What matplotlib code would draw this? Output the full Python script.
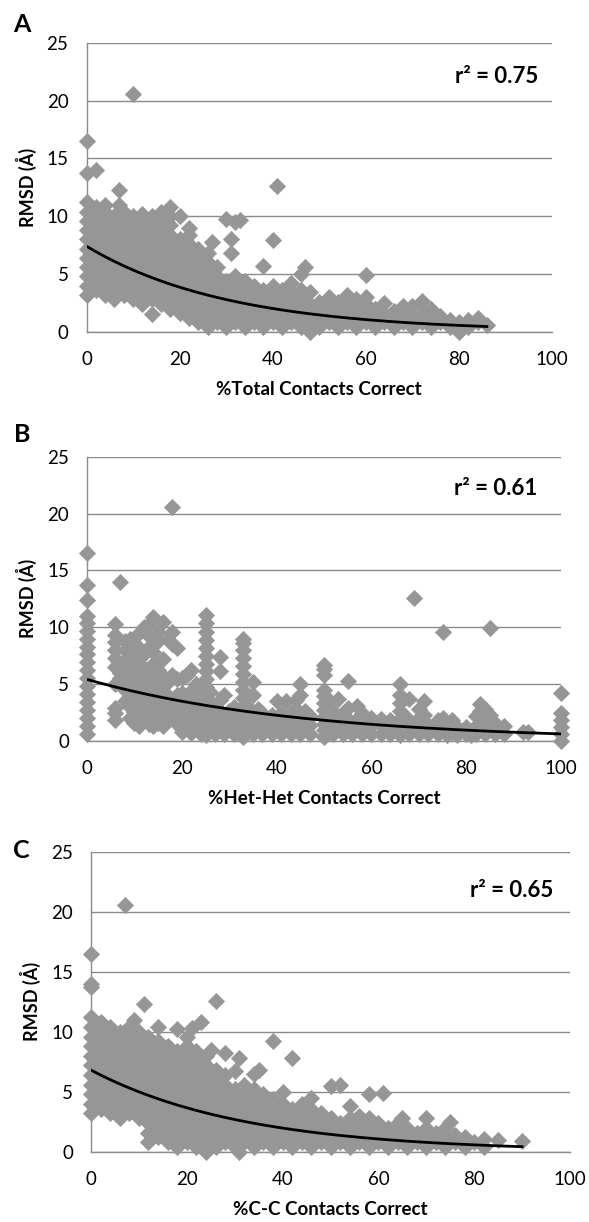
import matplotlib
matplotlib.use('Agg')
import matplotlib.pyplot as plt
import numpy as np

plt.rcParams['font.family'] = ['Lato', 'DejaVu Sans']

# Panel A: % total contacts correct vs RMSD, points grouped by x column
a_cols = [0, 2, 4, 6, 7, 8, 10, 12, 14, 16, 18, 20, 22, 24, 26, 27, 28, 30, 31, 32, 33,
          34, 36, 38, 40, 41, 42, 44, 46, 47, 48, 50, 52, 54, 56, 58, 60, 62, 64, 66,
          68, 70, 72, 74, 76, 78, 80, 82, 84, 86]
a_vals = [
    [3.2, 4.0, 4.8, 5.6, 6.4, 7.2, 8.0, 8.8, 9.6, 10.4, 11.2, 13.7, 16.5],
    [3.6, 4.4, 5.2, 6.0, 6.8, 7.6, 8.4, 9.2, 10.0, 10.8, 14.0],
    [3.2, 4.0, 4.8, 5.6, 6.4, 7.2, 8.0, 8.8, 9.6, 10.4, 11.0],
    [2.8, 3.6, 4.4, 5.2, 6.0, 6.8, 7.6, 8.4, 9.2, 10.0],
    [11.0, 12.3],
    [3.2, 4.0, 4.8, 5.6, 6.4, 7.2, 8.0, 8.8, 9.6, 10.4],
    [2.8, 3.6, 4.4, 5.2, 6.0, 6.8, 7.6, 8.4, 9.2, 10.0, 20.6],
    [2.4, 3.2, 4.0, 4.8, 5.6, 6.4, 7.2, 8.0, 8.8, 9.6, 10.2],
    [1.5, 2.8, 3.6, 4.4, 5.2, 6.0, 6.8, 7.6, 8.4, 9.2, 10.0],
    [2.4, 3.2, 4.0, 4.8, 5.6, 6.4, 7.2, 8.0, 8.8, 9.6, 10.4],
    [2.0, 2.8, 3.6, 4.4, 5.2, 6.0, 6.8, 7.6, 8.4, 9.2, 10.0, 10.8],
    [1.6, 2.4, 3.2, 4.0, 4.8, 5.6, 6.4, 7.2, 8.0, 10.0],
    [1.2, 2.0, 2.8, 3.6, 4.4, 5.2, 6.0, 6.8, 7.6, 8.4, 9.0],
    [0.8, 1.6, 2.4, 3.2, 4.0, 4.8, 5.6, 6.4, 7.2],
    [0.4, 1.2, 2.0, 2.8, 3.6, 4.4, 5.2, 6.0, 6.8],
    [7.8],
    [0.8, 1.6, 2.4, 3.2, 4.0, 4.8, 5.6],
    [0.4, 1.2, 2.0, 2.8, 3.6, 4.4, 9.8],
    [6.8, 8.0],
    [0.8, 1.6, 2.4, 3.2, 4.0, 4.8, 9.5],
    [9.7],
    [0.4, 1.2, 2.0, 2.8, 3.6, 4.4],
    [0.8, 1.6, 2.4, 3.2, 4.0],
    [0.4, 1.2, 2.0, 2.8, 3.6, 5.7],
    [0.8, 1.6, 2.4, 3.2, 4.0, 7.9],
    [12.6],
    [0.4, 1.2, 2.0, 2.8, 3.6],
    [0.8, 1.6, 2.4, 3.2, 4.2],
    [0.4, 1.2, 2.0, 2.8, 3.6, 5.0],
    [5.6],
    [0.0, 0.8, 1.6, 2.4, 3.4],
    [0.4, 1.2, 2.0, 2.6],
    [0.8, 1.6, 2.4, 3.0],
    [0.4, 1.2, 2.0, 2.6],
    [0.8, 1.6, 2.4, 3.2],
    [0.4, 1.2, 2.0, 2.8],
    [0.8, 1.6, 2.4, 3.0, 4.9],
    [0.4, 1.2, 2.0],
    [0.8, 1.6, 2.5],
    [0.4, 1.2, 1.8],
    [0.8, 1.6, 2.2],
    [0.4, 1.2, 2.2],
    [0.8, 1.6, 2.7],
    [0.4, 1.2, 2.0],
    [0.8, 1.4],
    [0.4, 1.0],
    [0.0, 0.8],
    [0.4, 1.0],
    [0.8, 1.2],
    [0.6],
]

# Panel B: % het-het contacts correct vs RMSD
b_cols = [0, 6, 7, 8, 9, 10, 11, 12, 13, 14, 15, 16, 17, 18, 19, 20, 21, 22, 23, 24, 25,
          26, 27, 28, 29, 30, 31, 33, 34, 35, 36, 37, 38, 39, 40, 41, 42, 43, 44, 45, 46,
          47, 50, 51, 52, 53, 54, 55, 56, 57, 58, 60, 62, 63, 64, 66, 67, 68, 69, 70, 71,
          72, 74, 75, 76, 77, 78, 80, 81, 82, 83, 84, 85, 86, 87, 88, 92, 93, 100]
b_vals = [
    [0.6, 1.3, 2.0, 2.7, 3.4, 4.1, 4.8, 5.5, 6.2, 6.9, 7.6, 8.3, 9.0, 9.7, 10.4, 11.0,
     12.4, 13.7, 16.5],
    [1.8, 2.4, 2.9, 5.0, 6.5, 7.3, 8.0, 8.7, 9.3, 10.3],
    [14.0, 5.5, 6.0],
    [3.5, 4.5, 6.0, 7.0, 8.0, 8.8],
    [2.0, 3.0, 4.2, 5.2, 6.3, 7.5, 9.0],
    [1.6, 2.5, 3.3, 4.0, 5.6, 6.8, 7.9, 8.6],
    [1.3, 2.2, 3.0, 4.6, 6.0, 7.2, 8.2, 9.5],
    [1.8, 2.6, 3.8, 5.0, 6.4, 7.6, 10.0],
    [1.5, 2.4, 3.3, 4.4, 5.6, 8.3, 9.2, 10.3],
    [1.3, 2.1, 3.0, 4.0, 6.8, 7.8, 9.0, 10.9],
    [1.6, 2.6, 3.6, 5.0, 6.2, 8.8, 9.6],
    [1.3, 2.2, 3.2, 4.4, 5.7, 7.2, 10.5],
    [1.8, 2.8, 3.9, 5.2, 9.0],
    [3.0, 5.8, 8.5, 9.6, 20.6],
    [1.5, 2.5, 4.0, 5.4, 8.2],
    [0.8, 1.6, 2.4, 3.2, 4.2, 5.5],
    [1.2, 2.0, 3.0, 5.8],
    [0.7, 1.5, 2.3, 3.6, 4.4, 6.2],
    [1.0, 1.9, 2.8, 5.0],
    [0.6, 1.4, 2.2, 3.1, 4.0],
    [0.5, 1.2, 1.9, 2.6, 3.3, 4.0, 4.7, 5.4, 6.1, 6.8, 7.5, 8.2, 8.9, 9.6, 10.4, 11.1],
    [1.0, 1.8, 2.6, 3.4, 4.3],
    [0.6, 1.4, 2.2, 3.0],
    [1.0, 1.8, 2.6, 3.6, 6.1, 7.4],
    [0.6, 1.4, 2.3, 4.0],
    [1.0, 1.8, 2.6],
    [0.6, 1.4, 2.2, 3.0],
    [0.3, 1.0, 1.7, 2.4, 3.1, 3.8, 4.5, 5.2, 5.9, 6.6, 7.3, 8.0, 8.6, 9.0],
    [1.0, 2.0, 3.0],
    [0.6, 1.4, 2.3, 4.0, 5.2],
    [1.0, 1.9, 2.8],
    [0.6, 1.5, 2.4],
    [1.0, 1.9],
    [0.6, 1.4, 2.3],
    [1.0, 1.9, 3.5],
    [0.6, 1.5, 2.4],
    [1.0, 1.9, 3.5],
    [0.6, 1.4, 2.4],
    [1.0, 1.9, 2.8, 3.6],
    [0.6, 1.5, 4.0, 5.0],
    [1.0, 1.8, 2.6],
    [0.6, 1.4, 2.2],
    [0.3, 0.9, 1.5, 2.1, 2.7, 3.3, 3.9, 4.5, 5.8, 6.3, 6.7],
    [1.2, 2.4, 3.6],
    [0.6, 1.5, 2.6],
    [1.0, 2.0, 3.7],
    [0.6, 1.4, 2.4],
    [1.0, 1.9, 2.9, 5.3],
    [0.6, 1.4],
    [1.0, 1.9, 3.1],
    [0.6, 1.4, 2.4],
    [0.6, 1.3, 2.0],
    [0.6, 1.4, 1.9],
    [1.0],
    [0.6, 1.5, 1.8],
    [0.5, 1.2, 1.9, 2.6, 3.3, 4.0, 5.0],
    [1.0, 2.2],
    [0.6, 1.5, 3.7],
    [12.6],
    [0.6, 1.2, 2.0, 2.8],
    [1.0, 2.3, 3.5],
    [0.6, 1.4],
    [0.6, 1.2, 1.8],
    [1.0, 2.0, 9.6],
    [0.5, 1.4],
    [0.8, 1.8],
    [0.5, 1.2],
    [0.6, 1.2],
    [0.5],
    [0.6, 1.3, 2.2],
    [1.0, 2.0, 2.6, 3.2],
    [0.6, 1.5, 2.8],
    [1.0, 2.3, 9.9],
    [0.6, 1.6],
    [0.9],
    [0.6, 1.3],
    [0.8],
    [0.8],
    [0.0, 0.6, 1.2, 1.8, 2.4, 4.2],
]

# Panel C: % C-C contacts correct vs RMSD
c_cols = [0, 2, 4, 6, 7, 8, 9, 10, 11, 12, 14, 16, 18, 20, 21, 22, 23, 24, 25, 26, 28,
          30, 31, 32, 34, 35, 36, 38, 40, 42, 44, 46, 48, 50, 52, 54, 56, 58, 60, 61, 62,
          64, 65, 66, 68, 70, 72, 74, 75, 76, 78, 80, 82, 85, 90]
c_vals = [
    [3.2, 4.0, 4.8, 5.6, 6.4, 7.2, 8.0, 8.8, 9.6, 10.4, 11.2, 13.7, 14.0, 16.5],
    [3.6, 4.4, 5.2, 6.0, 6.8, 7.6, 8.4, 9.2, 10.0, 10.8],
    [3.2, 4.0, 4.8, 5.6, 6.4, 7.2, 8.0, 8.8, 9.6, 10.4],
    [2.8, 3.6, 4.4, 5.2, 6.0, 6.8, 7.6, 8.4, 9.2, 10.0],
    [20.6],
    [3.2, 4.0, 4.8, 5.6, 6.4, 7.2, 8.0, 8.8, 9.6, 10.4],
    [11.0],
    [2.8, 3.6, 4.4, 5.2, 6.0, 6.8, 7.6, 8.4, 9.2, 10.0],
    [12.3],
    [0.8, 1.6, 2.4, 3.2, 4.0, 4.8, 5.6, 6.4, 7.2, 8.0, 8.8, 9.6],
    [1.2, 2.0, 2.8, 3.6, 4.4, 5.2, 6.0, 6.8, 7.6, 8.4, 9.2, 10.4],
    [0.8, 1.6, 2.4, 3.2, 4.0, 4.8, 5.6, 6.4, 7.2, 8.0, 8.8],
    [0.4, 1.2, 2.0, 2.8, 3.6, 4.4, 5.2, 6.0, 6.8, 7.6, 8.4, 10.2],
    [0.8, 1.6, 2.4, 3.2, 4.0, 4.8, 5.6, 6.4, 7.2, 8.0, 8.8, 9.6],
    [10.3],
    [0.4, 1.2, 2.0, 2.8, 3.6, 4.4, 5.2, 6.0, 6.8, 7.6, 8.4],
    [10.8],
    [0.0, 0.8, 1.6, 2.4, 3.2, 4.0, 4.8, 5.6, 6.4, 7.2, 8.0],
    [8.5],
    [0.4, 1.2, 2.0, 2.8, 3.6, 4.4, 5.2, 6.0, 6.8, 12.6],
    [0.8, 1.6, 2.4, 3.2, 4.0, 4.8, 5.6, 6.4, 8.2],
    [0.4, 1.2, 2.0, 2.8, 3.6, 4.4, 5.2, 6.7],
    [0.0, 7.8],
    [0.8, 1.6, 2.4, 3.2, 4.0, 4.8, 5.6],
    [0.4, 1.2, 2.0, 2.8, 3.6, 4.4, 5.2, 6.5],
    [6.8],
    [0.8, 1.6, 2.4, 3.2, 4.0, 4.8],
    [0.4, 1.2, 2.0, 2.8, 3.6, 4.4, 9.2],
    [0.8, 1.6, 2.4, 3.2, 4.0, 5.0],
    [0.4, 1.2, 2.0, 2.8, 3.6, 7.8],
    [0.8, 1.6, 2.4, 3.2, 4.0],
    [0.4, 1.2, 2.0, 2.8, 3.6, 4.5],
    [0.8, 1.6, 2.4, 3.2],
    [0.4, 1.2, 2.0, 2.8, 5.5],
    [0.8, 1.6, 2.4, 5.6],
    [0.4, 1.2, 2.0, 2.8, 3.8],
    [0.8, 1.6, 2.4, 3.0],
    [0.4, 1.2, 2.0, 2.8, 4.8],
    [0.8, 1.6, 2.4],
    [4.9],
    [0.4, 1.2, 2.0],
    [0.8, 1.6, 2.4],
    [2.8],
    [0.4, 1.2, 2.0],
    [0.8, 1.6],
    [0.4, 1.2, 2.0, 2.8],
    [0.8, 1.6],
    [0.4, 1.2, 2.0],
    [2.5],
    [0.8, 1.4],
    [0.4, 1.2],
    [0.8],
    [0.4, 1.1],
    [1.0],
    [0.9],
]

# exponential trendlines y = a * exp(b * x), drawn from x = 0 to the last point
fit_a = (7.4, -0.0326)
fit_b = (5.4, -0.022)
fit_c = (6.8, -0.031)

r2_labels = ['r² = 0.75', 'r² = 0.61', 'r² = 0.65']
x_titles = ['%Total Contacts Correct', '%Het-Het Contacts Correct', '%C-C Contacts Correct']
panel_tags = ['A', 'B', 'C']

GREY_PT = '#969696'
GREY_LINE = '#8a8a8a'

W, H = 589, 1222
fig = plt.figure(figsize=(W / 100, H / 100), dpi=100)

# axes boxes in pixels: left, right, top (y=25), bottom (y=0)
boxes = [(86.5, 552, 43, 331.7), (87, 561, 457, 740.7), (91, 570, 851.7, 1151.7)]
r2_pos = [(97, 22.1), (95, 22.2), (96.5, 21.8)]
tag_pos = [(22, 25), (22, 435), (21, 850)]


def flatten(cols, vals):
    xs = [c for c, v in zip(cols, vals) for _ in v]
    ys = [y for v in vals for y in v]
    return np.array(xs, float), np.array(ys, float)


def draw_panel(i, cols, vals, fit):
    l, r, t, b = boxes[i]
    ax = fig.add_axes([l / W, 1 - b / H, (r - l) / W, (b - t) / H])
    xs, ys = flatten(cols, vals)
    ax.scatter(xs, ys, marker='D', s=68, c=GREY_PT, edgecolors=GREY_PT,
               linewidths=0.5, clip_on=False, zorder=3)
    xx = np.linspace(0, xs.max(), 200)
    ax.plot(xx, fit[0] * np.exp(fit[1] * xx), color='black', lw=2.0, zorder=4)

    ax.set_xlim(0, 100)
    ax.set_ylim(0, 25)
    ax.set_xticks(range(0, 101, 20))
    ax.set_yticks(range(0, 26, 5))
    ax.yaxis.grid(True, color=GREY_LINE, lw=1.0)
    ax.set_axisbelow(True)
    for s in ['top', 'right']:
        ax.spines[s].set_visible(False)
    for s in ['left', 'bottom']:
        ax.spines[s].set_color(GREY_LINE)
        ax.spines[s].set_linewidth(1.0)
    ax.tick_params(length=0, labelsize=13.5, colors='black')
    ax.tick_params(axis='y', pad=13)
    ax.tick_params(axis='x', pad=14)

    ax.set_xlabel(x_titles[i], fontsize=13.5, fontweight='bold', labelpad=9)
    ax.set_ylabel('RMSD (Å)', fontsize=13, fontweight='bold', labelpad=7)
    ax.text(r2_pos[i][0], r2_pos[i][1], r2_labels[i], ha='right', va='center',
            fontsize=16, fontweight='bold')
    fig.text(tag_pos[i][0] / W, 1 - tag_pos[i][1] / H, panel_tags[i],
             ha='center', va='center', fontsize=18, fontweight='bold')
    return ax


draw_panel(0, a_cols, a_vals, fit_a)
draw_panel(1, b_cols, b_vals, fit_b)
draw_panel(2, c_cols, c_vals, fit_c)

fig.savefig('out.png', dpi=100, facecolor='white')
